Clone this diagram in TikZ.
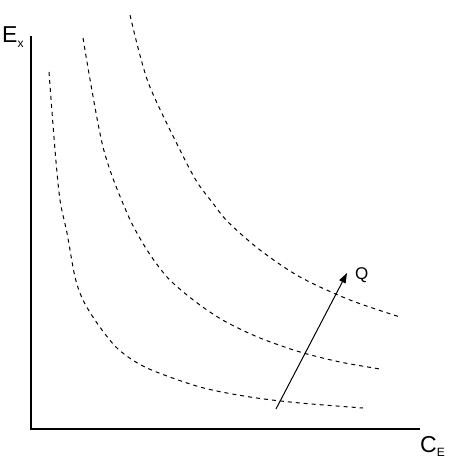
\documentclass[tikz,border=0pt]{standalone}
\usepackage{fontspec}
\setmainfont{Liberation Sans}
\usetikzlibrary{arrows.meta}
\begin{document}
\begin{tikzpicture}[x=1pt,y=-1pt,
  axis/.style={line width=2.8pt},
  curve/.style={dash pattern=on 4pt off 4pt, line width=1pt},
  qarrow/.style={line width=1pt,-{Triangle[length=10pt,width=7pt]}},
  lbl/.style={inner sep=0pt,font=\fontsize{23}{25}\selectfont}]
\useasboundingbox (0,0) rectangle (450,463);
\coordinate (top) at (31,36);
\coordinate (origin) at (31,429);
\coordinate (right) at (420,429);
\draw[axis] (top) -- (origin) -- (right);
\node[lbl,anchor=base west] (ex) at (2,42) {E\raisebox{-0.25em}{\fontsize{12}{13}\selectfont x}};
\node[lbl,anchor=base west] (ce) at (420,452) {C\raisebox{-0.2em}{\fontsize{12}{13}\selectfont E}};
\draw[curve] plot[smooth] coordinates {(49,72) (55,150) (60,200) (67,233) (75,277) (83,300) (97,323) (118,349) (147,368) (200,387) (250,397) (300,403) (363,408)};
\draw[curve] plot[smooth] coordinates {(83,38) (103,147) (127,213) (147,250) (167,277) (187,295) (207,310) (228,323) (260,338) (300,352) (340,362) (380,369)};
\draw[curve] plot[smooth] coordinates {(130,15) (148,82) (180,150) (197,182) (212,202) (228,222) (260,250) (300,277) (350,300) (400,317)};
\coordinate (qstart) at (276,409);
\coordinate (qend) at (347,273);
\draw[qarrow] (qstart) -- (qend);
\node[lbl,anchor=base west,font=\fontsize{17}{19}\selectfont] (q) at (355,279) {Q};
\end{tikzpicture}
\end{document}
